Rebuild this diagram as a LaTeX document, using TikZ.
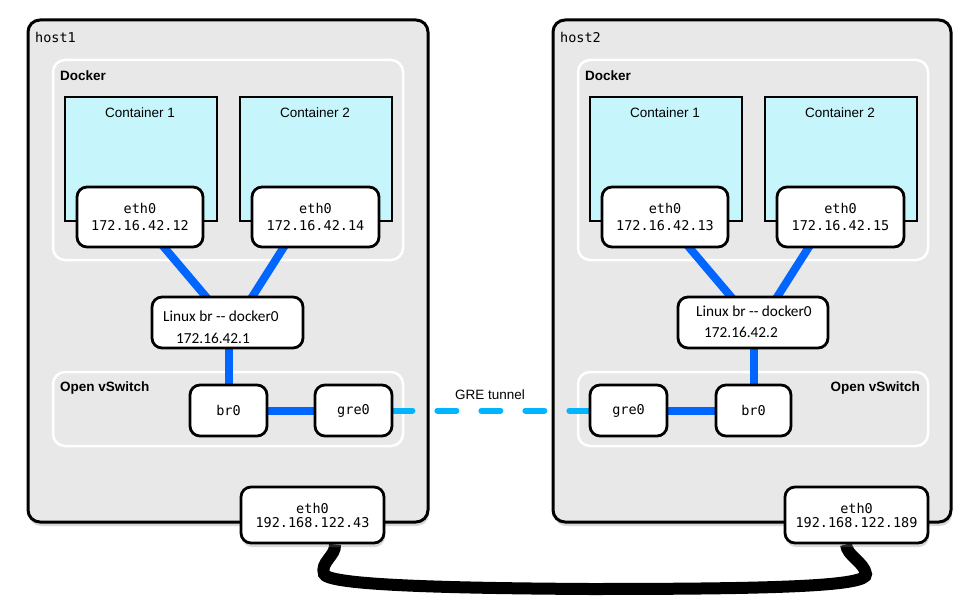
\documentclass[tikz,border=0pt]{standalone}
\usepackage{fontspec}
\setmainfont{Liberation Sans}
\setmonofont{DejaVu Sans Mono}
\newfontfamily\brfont{Carlito}
\usetikzlibrary{shadows}
\pgfdeclarelayer{bottom}
\pgfdeclarelayer{background}
\pgfsetlayers{bottom,background,main}
\definecolor{hostgray}{RGB}{232,232,232}
\definecolor{contcyan}{RGB}{198,245,252}
\definecolor{linkblue}{RGB}{0,102,255}
\definecolor{grecyan}{RGB}{0,180,255}
\tikzset{
  hostbox/.style={draw=black, line width=3pt, rounded corners=12pt, fill=hostgray,
    drop shadow={shadow xshift=1pt, shadow yshift=-4pt, opacity=0.3}, inner sep=0pt},
  groupbox/.style={draw=white, line width=2.5pt, rounded corners=12pt, inner sep=0pt},
  contbox/.style={draw=black, line width=2.8pt, fill=contcyan, inner sep=0pt},
  ifbox/.style={draw=black, line width=2.8pt, rounded corners=10pt, fill=white, inner sep=0pt,
    align=center, font=\ttfamily\fontsize{13.5}{17}\selectfont},
  hostif/.style={ifbox, font=\ttfamily\fontsize{13.5}{14}\selectfont,
    drop shadow={shadow xshift=1pt, shadow yshift=-4pt, opacity=0.3}},
  monolabel/.style={font=\ttfamily\fontsize{13.5}{16}\selectfont, inner sep=0pt},
  sanslabel/.style={font=\fontsize{13.5}{16}\selectfont, inner sep=0pt},
  boldlabel/.style={font=\bfseries\fontsize{13.5}{16}\selectfont, inner sep=0pt},
  brlabel/.style={font=\brfont\fontsize{15.3}{18}\selectfont, inner sep=0pt, anchor=west},
  blueline/.style={draw=linkblue, line width=8pt, shorten <=-6pt, shorten >=-6pt},
  tunnel/.style={draw=grecyan, line width=6pt, line cap=round, dash pattern=on 19pt off 25pt},
  cable/.style={draw=black, line width=12pt},
}
\begin{document}
\begin{tikzpicture}[x=1pt,y=-1pt]
\useasboundingbox (0,0) rectangle (980,615);
\begin{pgfonlayer}{bottom}
  % hosts
  \node[hostbox, minimum width=400pt, minimum height=502pt] (h1) at (228,271) {};
  \node[hostbox, minimum width=398pt, minimum height=502pt] (h2) at (752,271) {};
  \node[monolabel, anchor=west] (h1t) at (35,37) {host1};
  \node[monolabel, anchor=west] (h2t) at (560,37) {host2};
  % docker groups
  \node[groupbox, minimum width=350pt, minimum height=200pt] (d1) at (228,160) {};
  \node[groupbox, minimum width=350pt, minimum height=200pt] (d2) at (753,160) {};
  \node[boldlabel, anchor=west] (d1t) at (60,76) {Docker};
  \node[boldlabel, anchor=west] (d2t) at (585,76) {Docker};
  % ovs groups
  \node[groupbox, minimum width=350pt, minimum height=74pt] (o1) at (228,409) {};
  \node[groupbox, minimum width=350pt, minimum height=74pt] (o2) at (753,409) {};
  \node[boldlabel, anchor=west] (o1t) at (60,388) {Open vSwitch};
  \node[boldlabel, anchor=east] (o2t) at (920,388) {Open vSwitch};
  % containers
  \node[contbox, minimum width=152pt, minimum height=124pt] (c11) at (141,159) {};
  \node[contbox, minimum width=152pt, minimum height=124pt] (c12) at (316,159) {};
  \node[contbox, minimum width=152pt, minimum height=124pt] (c21) at (666,159) {};
  \node[contbox, minimum width=152pt, minimum height=124pt] (c22) at (841,159) {};
  \node[sanslabel] (c11t) at (140,113) {Container 1};
  \node[sanslabel] (c12t) at (315,113) {Container 2};
  \node[sanslabel] (c21t) at (665,113) {Container 1};
  \node[sanslabel] (c22t) at (840,113) {Container 2};
\end{pgfonlayer}

% container interfaces
\node[ifbox, minimum width=126pt, minimum height=60pt] (e11) at (140,217) {eth0\\172.16.42.12};
\node[ifbox, minimum width=127pt, minimum height=60pt] (e12) at (315.5,217) {eth0\\172.16.42.14};
\node[ifbox, minimum width=126pt, minimum height=60pt] (e21) at (665,217) {eth0\\172.16.42.13};
\node[ifbox, minimum width=127pt, minimum height=60pt] (e22) at (840.5,217) {eth0\\172.16.42.15};

% linux bridges
\node[ifbox, minimum width=151pt, minimum height=51pt] (lb1) at (227.5,322.5) {};
\node[ifbox, minimum width=150pt, minimum height=51pt] (lb2) at (753,322.5) {};
\node[brlabel] (lb1a) at (163,316) {Linux br -{}- docker0};
\node[brlabel] (lb1b) at (176,338) {172.16.42.1};
\node[brlabel] (lb2a) at (696,311) {Linux br -{}- docker0};
\node[brlabel] (lb2b) at (704,332) {172.16.42.2};

% ovs ports
\node[ifbox, minimum width=77pt, minimum height=51pt] (br1) at (228.5,410.5) {br0};
\node[ifbox, minimum width=77pt, minimum height=51pt] (gre1) at (353.5,410.5) {gre0};
\node[ifbox, minimum width=77pt, minimum height=51pt] (gre2) at (628.5,410.5) {gre0};
\node[ifbox, minimum width=75pt, minimum height=51pt] (br2) at (753.5,410.5) {br0};

% host interfaces
\node[hostif, minimum width=143pt, minimum height=56pt] (he1) at (312.5,515) {eth0\\192.168.122.43};
\node[hostif, minimum width=143pt, minimum height=56pt] (he2) at (856.5,515) {eth0\\192.168.122.189};

\node[sanslabel] (gret) at (490,395) {GRE tunnel};

\begin{pgfonlayer}{background}
  \draw[blueline] ([xshift=25pt]e11.south) -- ([xshift=-22.5pt]lb1.north);
  \draw[blueline] ([xshift=-32.5pt]e12.south) -- ([xshift=25.5pt]lb1.north);
  \draw[blueline] ([xshift=25pt]e21.south) -- ([xshift=-23pt]lb2.north);
  \draw[blueline] ([xshift=-32.5pt]e22.south) -- ([xshift=25pt]lb2.north);
  \draw[blueline] (br1.north |- lb1.south) -- (br1.north);
  \draw[blueline] (br2.north |- lb2.south) -- (br2.north);
  \draw[blueline] (br1.east) -- (gre1.west);
  \draw[blueline] (gre2.east) -- (br2.west);
  \draw[tunnel] (gre1.east) -- (gre2.west);
  \draw[cable] ([xshift=22.5pt]he1.south) .. controls (336,556) and (320,562) .. (324,574)
     .. controls (328,584) and (420,588) .. (590,589)
     .. controls (780,589) and (868,586) .. (866,574)
     .. controls (864,562) and (847,556) .. ([xshift=-10.5pt]he2.south);
\end{pgfonlayer}
\end{tikzpicture}
\end{document}
